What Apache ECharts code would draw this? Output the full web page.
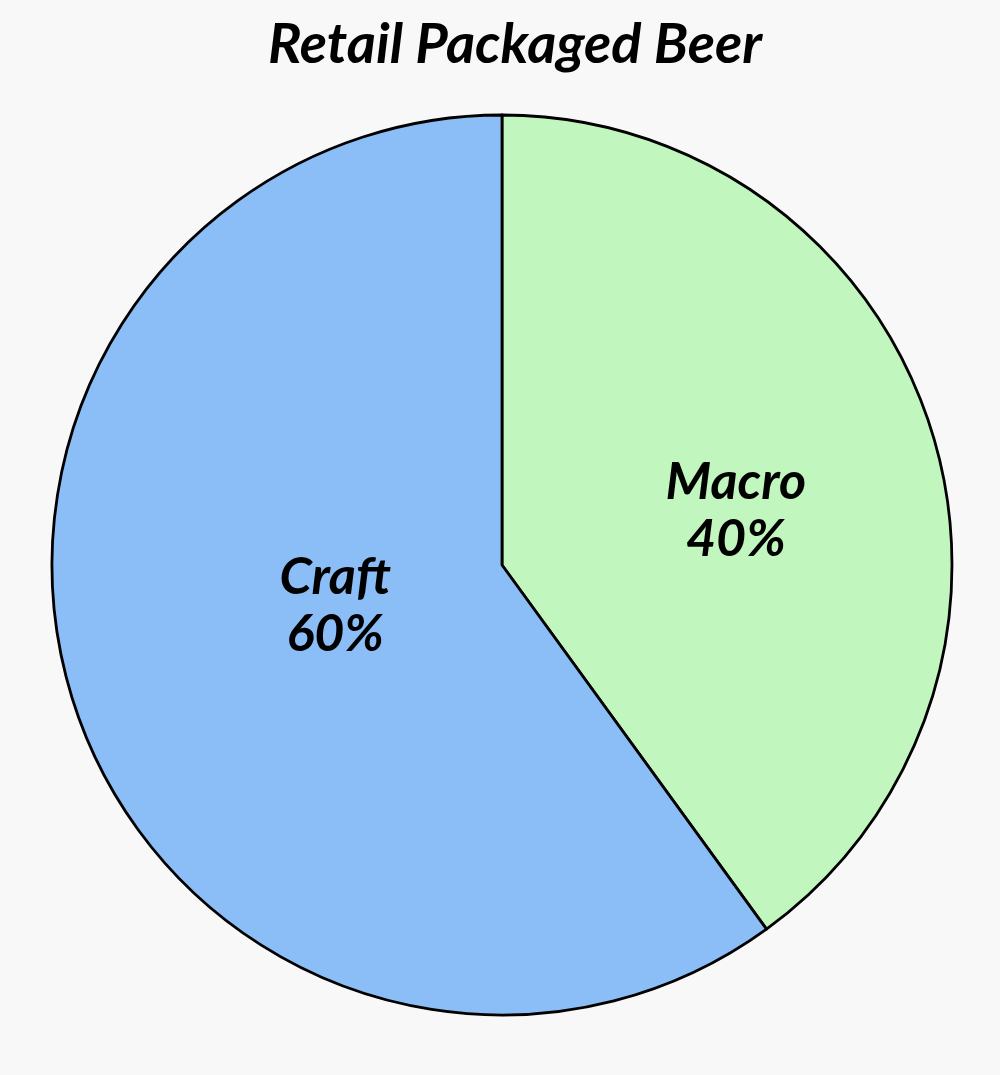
<!DOCTYPE html>
<html><head><meta charset="utf-8">
<script src="https://cdn.jsdelivr.net/npm/echarts@6/dist/echarts.min.js"></script>
<style>html,body{margin:0;padding:0;background:#f8f8f8;}#c{width:1000px;height:1075px;}</style>
</head><body><div id="c"></div>
<script>
const titleText = 'Retail Packaged Beer';
const categories = ['Macro', 'Craft'];
const values = [40, 60];
const colors = ['#c2f6bf', '#8bbdf6'];
const labelOffsets = [[17, 16], [50, -30]];

const chart = echarts.init(document.getElementById('c'), null, {renderer: 'canvas'});
chart.setOption({
  backgroundColor: '#f8f8f8',
  animation: false,
  title: {
    text: titleText, left: 510, textAlign: 'center', top: 12,
    textStyle: {fontFamily: 'Lato', fontStyle: 'italic', fontWeight: 'bold', fontSize: 56, color: '#000'}
  },
  series: [{
    type: 'pie',
    center: [502, 565],
    radius: [0, 450],
    startAngle: 90,
    clockwise: true,
    silent: true,
    itemStyle: {borderColor: '#000', borderWidth: 2.8},
    label: {
      show: true, position: 'inside',
      formatter: p => p.name + '\n' + p.value + '%',
      fontFamily: 'Lato', fontStyle: 'italic', fontWeight: 'bold', fontSize: 52,
      lineHeight: 57, color: '#000'
    },
    labelLine: {show: false},
    data: categories.map((c, i) => ({
      name: c, value: values[i],
      itemStyle: {color: colors[i]},
      label: {offset: labelOffsets[i]}
    }))
  }]
});
</script></body></html>
